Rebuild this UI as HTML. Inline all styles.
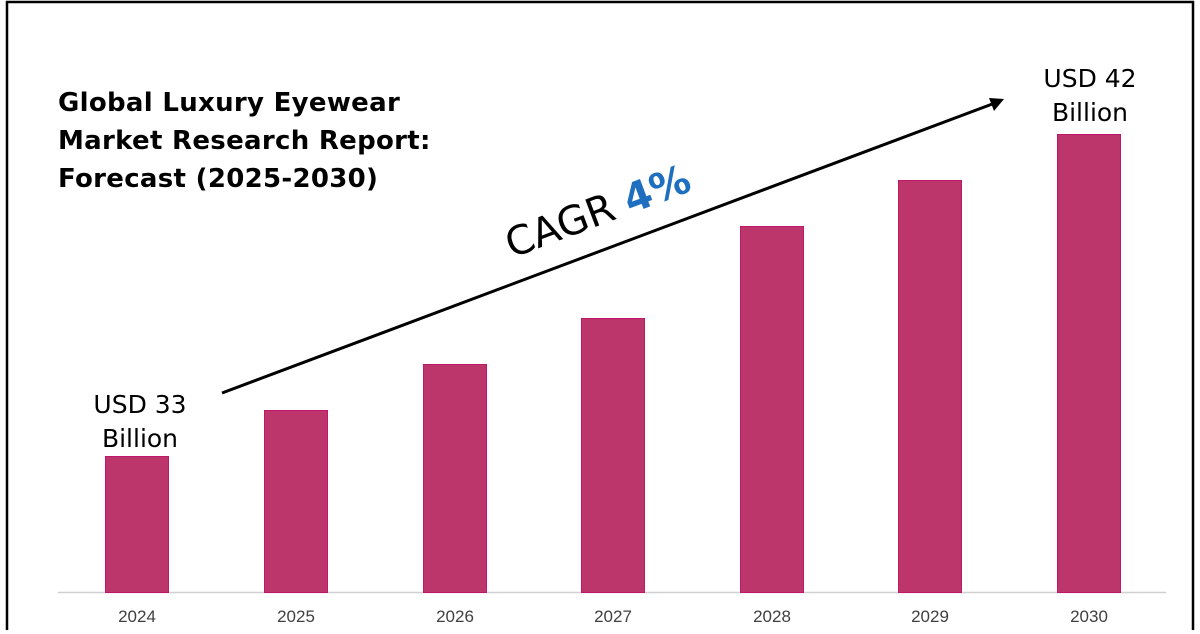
<!DOCTYPE html>
<html><head><style>
body{margin:0;width:1200px;height:630px;background:#fff;overflow:hidden;font-family:"DejaVu Sans","Liberation Sans",sans-serif}
</style></head><body>
<svg width="1200" height="630" xmlns="http://www.w3.org/2000/svg">
<rect x="7" y="2" width="1186" height="640" fill="none" stroke="#000" stroke-width="2.5"/>
<line x1="58" y1="592.5" x2="1166" y2="592.5" stroke="#d0d0d0" stroke-width="1.5"/>
<g fill="#bc366c" stroke="#c0176a" stroke-width="1">
<rect x="105.5" y="456.5" width="63" height="136"/>
<rect x="264.5" y="410.5" width="63" height="182"/>
<rect x="423.5" y="364.5" width="63" height="228"/>
<rect x="581.5" y="318.5" width="63" height="274"/>
<rect x="740.5" y="226.5" width="63" height="366"/>
<rect x="898.5" y="180.5" width="63" height="412"/>
<rect x="1057.5" y="134.5" width="63" height="458"/>
</g>
<g font-family="'Liberation Sans',sans-serif" font-size="17" fill="#404040" text-anchor="middle">
<text x="137" y="622">2024</text><text x="296" y="622">2025</text><text x="455" y="622">2026</text>
<text x="613" y="622">2027</text><text x="772" y="622">2028</text><text x="930" y="622">2029</text><text x="1089" y="622">2030</text>
</g>
<line x1="222" y1="393" x2="995" y2="103" stroke="#000" stroke-width="3"/>
<polygon points="1004,99 989,98 994,111" fill="#000"/>
<g font-weight="bold" fill="#000" font-size="26" letter-spacing="0.3">
<text x="58" y="111">Global Luxury Eyewear</text>
<text x="58" y="149">Market Research Report:</text>
<text x="58" y="187">Forecast (2025-2030)</text>
</g>
<g font-size="25" fill="#000" text-anchor="middle">
<text x="140" y="413">USD 33</text><text x="140" y="447">Billion</text>
<text x="1090" y="87">USD 42</text><text x="1090" y="121">Billion</text>
</g>
<text x="598" y="225" text-anchor="middle" font-size="40" transform="rotate(-20.6 598 212)" fill="#000">CAGR <tspan fill="#1f6fc0" font-weight="bold">4%</tspan></text>
</svg>
</body></html>
